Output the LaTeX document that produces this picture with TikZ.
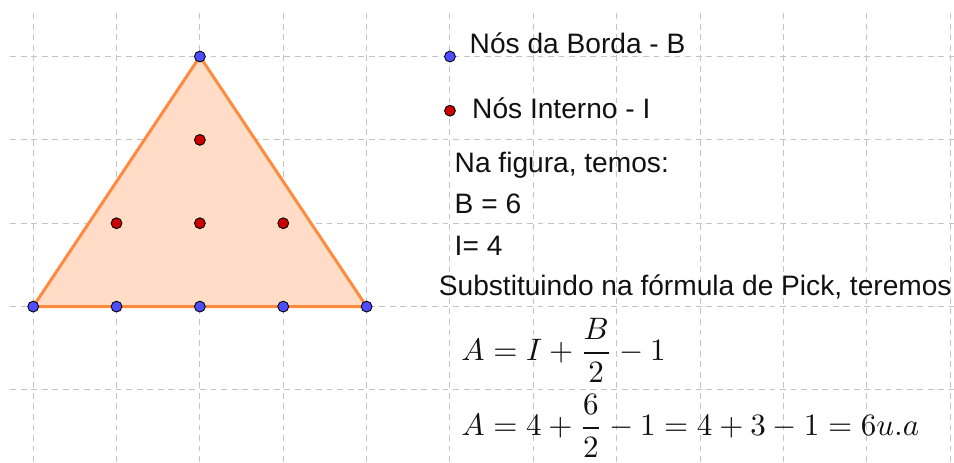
\documentclass[tikz,border=0pt]{standalone}
\usepackage{fix-cm}
\usepackage{amsmath}
\usepackage{fontspec}
\setmainfont{Liberation Sans}
\usepackage{tikz}
\usetikzlibrary{positioning}
\definecolor{GridGray}{HTML}{C4C4C4}
\definecolor{EdgeOrange}{HTML}{FF8A3D}
\definecolor{FaceOrange}{HTML}{FFDCC6}
\definecolor{BorderBlue}{HTML}{4D4DFF}
\definecolor{InnerRed}{HTML}{CC0000}
\definecolor{TextDark}{HTML}{111111}

\begin{document}
\begin{tikzpicture}[every node/.style={font=\fontsize{9.6}{11}\selectfont},
          gridline/.style={GridGray,line width=0.35pt,dash pattern=on 2pt off 1.6pt},
          bnode/.style={circle,draw=black,line width=0.3pt,fill=BorderBlue,
            inner sep=0pt,minimum size=0.13cm},
          inode/.style={bnode,fill=InnerRed},
          txt/.style={anchor=base west,inner sep=0pt,text=TextDark},
          mth/.style={txt,font=\fontsize{10.6}{12}\selectfont}]
        \useasboundingbox (-0.398,-1.876) rectangle (11.047,3.678);
        % grade
        \foreach \y in {-1,...,3} \draw[gridline] (-0.276,\y) -- (11.047,\y);
        \foreach \x in {0,...,11} \draw[gridline] (\x,3.52) -- (\x,-1.876);
        % triangulo
        \coordinate (P) at (0,0); \coordinate (Q) at (4,0); \coordinate (R) at (2,3);
        \filldraw[draw=EdgeOrange,fill=FaceOrange,line width=1pt,line join=round]
        (P) -- (Q) -- (R) -- cycle;
        % nos da borda
        \node[bnode] (b1) at (P) {}; \node[bnode] (b2) at (1,0) {};
        \node[bnode] (b3) at (2,0) {}; \node[bnode] (b4) at (3,0) {};
        \node[bnode] (b5) at (Q) {}; \node[bnode] (b6) at (R) {};
        % nos internos
        \node[inode] (i1) at (2,2) {}; \node[inode] (i2) at (1,1) {};
        \node[inode] (i3) at (2,1) {}; \node[inode] (i4) at (3,1) {};
        % legenda
        \node[bnode] (legb) at (5,3) {};
        \node[txt] (borda) at (5.23,3.04) {Nós da Borda - B};
        \node[inode] (legi) at (5,2.35) {};
        \node[txt] (interno) at (5.26,2.26) {Nós Interno - I};
        \node[txt] (figura) at (5.05,1.61) {Na figura, temos:};
        \node[txt] (valb) at (5.05,1.12) {B = 6};
        \node[txt] (vali) at (5.05,0.61) {I= 4};
        \node[txt] (subst) at (4.86,0.13) {Substituindo na fórmula de Pick, teremos};
        \node[mth] (pick) at (5.13,-0.65) {$\displaystyle A=I+\frac{B}{2}-1$};
        \node[mth] (area) at (5.13,-1.55) {$\displaystyle A=4+\frac{6}{2}-1=4+3-1=6u.a$};
      \end{tikzpicture}
\end{document}
